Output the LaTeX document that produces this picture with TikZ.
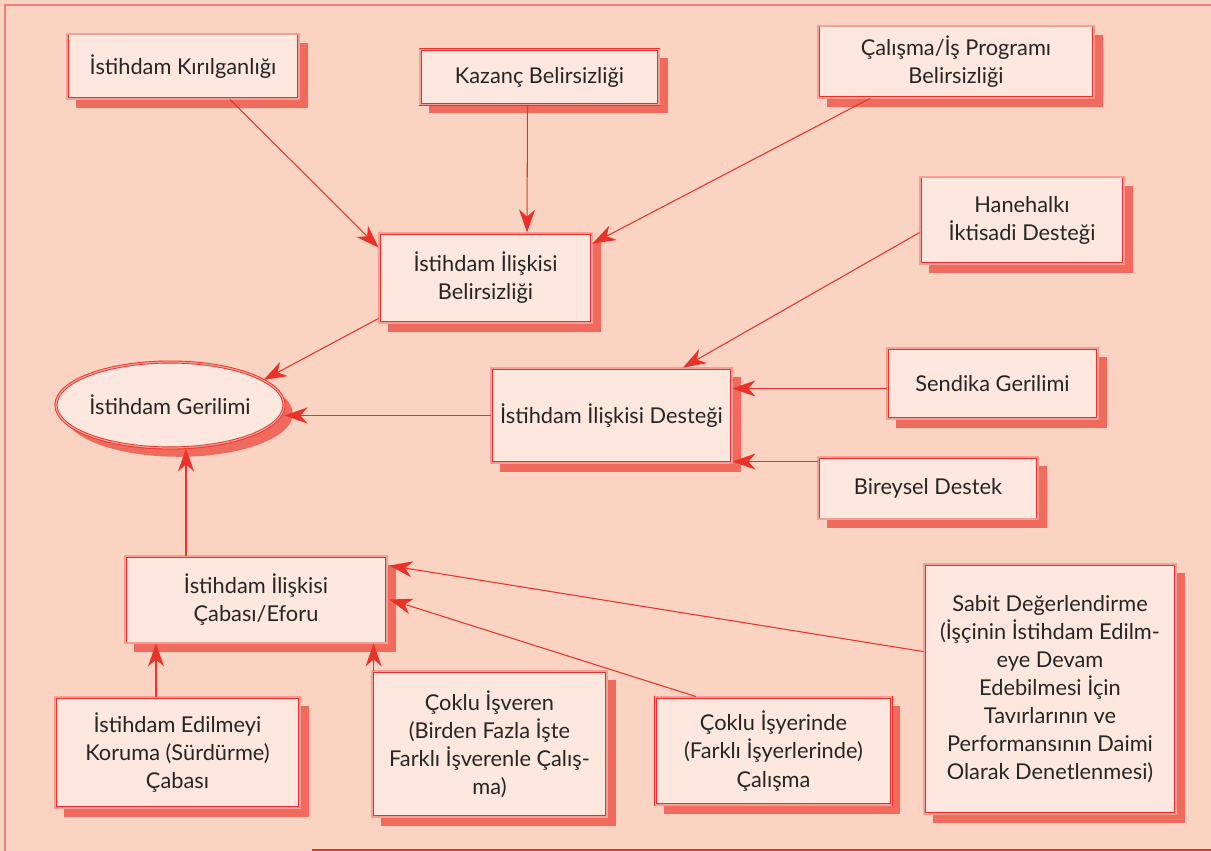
\documentclass[tikz,border=0pt]{standalone}
\usepackage{fontspec}
\setmainfont{Lato}
\usepackage{xcolor}
\usetikzlibrary{positioning,arrows.meta,shapes.geometric,calc,shadows}
\definecolor{bgpeach}{HTML}{FAD3C2}
\definecolor{boxfill}{HTML}{FDE7DE}
\definecolor{linered}{HTML}{EB3228}
\definecolor{textgray}{HTML}{262626}

\begin{document}
\begin{tikzpicture}[
  x=0.02cm, y=-0.02cm,
  font=\fontsize{12.4}{16}\selectfont,
  box/.style={draw=linered, double=boxfill!60!linered, double distance=0.7pt, line width=0.5pt,
    fill=boxfill, text=textgray, align=center, inner sep=2pt,
    drop shadow={shadow xshift=5pt, shadow yshift=-5pt, fill=linered, opacity=0.65}},
  elips/.style={box, ellipse},
  arr/.style={-{Stealth[length=0.46cm, width=0.32cm, inset=0.14cm]}, draw=linered, line width=0.6pt},
  frame/.style={draw=linered, double=bgpeach!50!linered, double distance=0.6pt, line width=0.5pt}]
% background and outer frame
\useasboundingbox (0,0) rectangle (1211,851);
\fill[bgpeach] (0,0) rectangle (1211,851);
\draw[frame] (1211,5) -| (5,851);
\draw[linered, line width=0.6pt] (312,850) -- (1211,850);

% boxes
\node[box, minimum width=4.64cm, minimum height=1.30cm] (kirilgan) at (183,66.5) {İstihdam Kırılganlığı};
\node[box, minimum width=4.78cm, minimum height=1.10cm] (kazanc) at (539.5,77) {Kazanç Belirsizliği};
\node[box, minimum width=5.52cm, minimum height=1.44cm] (calisma) at (956,62) {Çalışma/İş Programı\\Belirsizliği};
\node[box, minimum width=4.26cm, minimum height=1.80cm] (iliskibel) at (485.5,278) {İstihdam İlişkisi\\Belirsizliği};
\node[box, minimum width=4.08cm, minimum height=1.74cm] (hanehalki) at (1022,220.5) {Hanehalkı\\İktisadi Desteği};
\node[box, minimum width=4.22cm, minimum height=1.42cm] (sendika) at (992.5,383.5) {Sendika Gerilimi};
\node[box, minimum width=4.82cm, minimum height=1.90cm] (iliskides) at (611.5,415.5) {İstihdam İlişkisi Desteği};
\node[box, minimum width=4.40cm, minimum height=1.24cm] (bireysel) at (928,488) {Bireysel Destek};
\node[elips, minimum width=4.40cm, minimum height=1.72cm, inner sep=0pt] (gerilim) at (170,405) {İstihdam Gerilimi};
\node[box, minimum width=5.24cm, minimum height=1.74cm] (caba) at (256,599.5) {İstihdam İlişkisi\\Çabası/Eforu};
\node[box, minimum width=4.90cm, minimum height=2.22cm] (koruma) at (177.5,752.5) {İstihdam Edilmeyi\\Koruma (Sürdürme)\\Çabası};
\node[box, minimum width=4.70cm, minimum height=2.92cm] (isveren) at (489.5,744) {Çoklu İşveren\\(Birden Fazla İşte\\Farklı İşverenle Çalış-\\ma)};
\node[box, minimum width=4.72cm, minimum height=2.16cm] (isyeri) at (773.5,751) {Çoklu İşyerinde\\(Farklı İşyerlerinde)\\Çalışma};
\node[box, minimum width=5.04cm, minimum height=5.00cm] (sabit) at (1050,689) {Sabit Değerlendirme\\(İşçinin İstihdam Edilm-\\eye Devam\\Edebilmesi İçin\\Tavırlarının ve\\Performansının Daimi\\Olarak Denetlenmesi)};

% connectors
\draw[arr] ($(kirilgan.south)+(47,0)$) -- ($(iliskibel.north west)+(0,15)$);
\draw[arr] ($(kazanc.south)+(-12,0)$) -- ($(iliskibel.north)+(41.5,0)$);
\draw[arr] ($(calisma.south)+(-86,0)$) -- ($(iliskibel.north east)+(0,11)$);
\draw[arr] ($(iliskibel.south west)+(0,-5)$) -- (gerilim.15);
\draw[arr] ($(hanehalki.west)+(0,12)$) -- ($(iliskides.north)+(71.5,0)$);
\draw[arr] ($(sendika.west)+(0,5)$) coordinate (sw) -- (sw -| iliskides.east);
\draw[arr] ($(bireysel.north west)+(0,5)$) coordinate (bw) -- (bw -| iliskides.east);
\draw[arr] (iliskides.west) -- (iliskides.west -| gerilim.east);
\draw[arr] ($(caba.north)+(-70,0)$) coordinate (cn) -- (cn |- gerilim.south);
\draw[arr] ($(koruma.north)+(-21.5,0)$) coordinate (kn) -- (kn |- caba.south);
\draw[arr] ($(isveren.north west)+(2,0)$) coordinate (in) -- (in |- caba.south);
\draw[arr] ($(isyeri.north west)+(41,0)$) -- ($(caba.east)+(2,0)$);
\draw[arr] ($(sabit.north west)+(0,88)$) -- ($(caba.north east)+(2,10)$);
\end{tikzpicture}
\end{document}
